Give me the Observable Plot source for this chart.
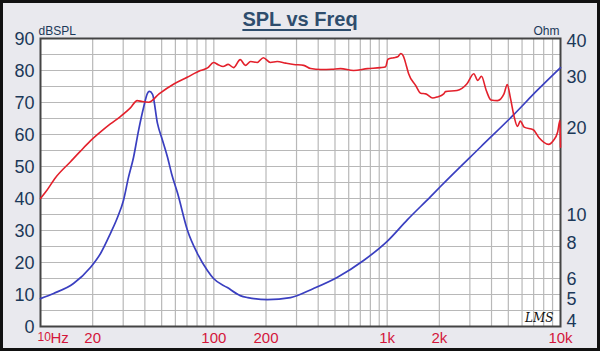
<!DOCTYPE html>
<html><head><meta charset="utf-8">
<script src="https://cdn.jsdelivr.net/npm/d3@7"></script>
<script src="https://cdn.jsdelivr.net/npm/@observablehq/plot@0.6"></script>
<style>
html,body{margin:0;padding:0;background:#e9e9ee;}
#wrap{position:relative;width:600px;height:351px;overflow:hidden;}
#wrap svg{display:block;}
#title{position:absolute;left:0;top:8px;width:600px;text-align:center;font:bold 20px/23px "Liberation Sans",Arial,sans-serif;color:#2e4d6d;text-decoration:underline;text-decoration-thickness:2px;text-underline-offset:3px;}
#border{position:absolute;left:0;top:0;width:600px;height:351px;box-sizing:border-box;border:3px solid #111;pointer-events:none;}
</style></head>
<body><div id="wrap"><div id="title">SPL vs Freq</div><div id="border"></div></div>
<script>
// SPL curve (red), dB
const splFreq = [10, 10.7, 12.2, 14.9, 17, 19.4, 22.2, 25.3, 28.9, 33, 36.1, 38.6, 42.2, 48.3, 58.8, 70.2, 83.7, 92, 99.6, 106, 113, 121, 130, 142, 152, 163, 178, 193, 212, 232, 260, 289, 330, 362, 415, 480, 538, 640, 770, 915, 980, 1010, 1090, 1150, 1200, 1240, 1290, 1330, 1460, 1560, 1670, 1830, 1940, 2120, 2170, 2530, 2880, 3160, 3330, 3500, 3730, 3970, 4330, 4720, 4930, 5150, 5410, 5650, 5860, 6170, 6960, 7520, 8540, 9100, 9620, 9940, 10000];
const splDb = [40, 42, 46.5, 51.5, 54.8, 58, 60.8, 63.3, 65.6, 68.3, 70.6, 70.3, 70.1, 72.7, 75.8, 77.9, 80, 80.8, 82.5, 81.8, 81.25, 81.9, 80.9, 83.4, 81.6, 82.8, 82.5, 84, 82.5, 82.8, 82.3, 81.9, 81.6, 80.6, 80.3, 80.4, 80.6, 80, 80.6, 80.9, 81.2, 83.5, 84, 84.3, 85.3, 84.5, 81.5, 79, 75.3, 72.9, 72.7, 71.4, 71.7, 72.7, 73.4, 73.75, 75.8, 79, 76.9, 78.2, 73.75, 70.8, 70.6, 72.7, 75.6, 71.2, 65.4, 62.5, 64.2, 62.3, 61.5, 59, 56.9, 58.1, 60.7, 64.4, 56];

// Impedance curve (blue), Ohm
const zFreq = [10, 11.9, 15.5, 19.4, 22.2, 25.3, 27.8, 30.1, 32.2, 34.4, 36.8, 39.3, 41.4, 42.5, 44.3, 47.3, 50.6, 54.1, 57, 61.8, 70.5, 80.4, 91.8, 99.6, 119.7, 142, 157, 204, 277, 376, 514, 731, 1000, 1310, 1780, 2030, 3460, 5390, 7330, 10000];
const zOhm = [5.0, 5.21, 5.64, 6.41, 7.17, 8.41, 9.56, 10.96, 13.2, 15.45, 19.2, 23.0, 25.8, 26.2, 25.6, 20.3, 17.7, 15.45, 13.6, 11.6, 8.62, 7.17, 6.26, 5.87, 5.46, 5.12, 5.04, 4.96, 5.04, 5.42, 5.92, 6.78, 7.9, 9.4, 11.3, 12.25, 16.8, 21.8, 26.4, 31.7];

// Axes
const xTicks = [20, 50, 100, 200, 500, 1000, 2000, 5000, 10000];
const xTickLabels = ["20", "50", "100", "200", "500", "1k", "2k", "5k", "10k"];
const dbTicks = [0, 10, 20, 30, 40, 50, 60, 70, 80, 90];
const ohmTicks = [4, 5, 6, 8, 10, 20, 30, 40];
const ohmMin = 4, ohmMax = 40, dbMax = 90;

// right (Ohm, log) axis mapped onto the dB scale
const ohmToY = o => dbMax * Math.log10(o / ohmMin) / Math.log10(ohmMax / ohmMin);

const spl = splFreq.map((f, i) => ({f, v: splDb[i]}));
const imp = zFreq.map((f, i) => ({f, v: ohmToY(zOhm[i])}));

const gridX = [];
for (const d of [10, 100, 1000]) for (let k = 1; k <= 9; k++) if (d * k > 10) gridX.push(d * k);
const gridY = d3.range(5, 90, 5);

const xLabel = new Map(xTicks.map((t, i) => [t, xTickLabels[i]]));
const ohmPos = ohmTicks.map(ohmToY);
const ohmLabel = new Map(ohmPos.map((p, i) => [p, String(ohmTicks[i])]));

const font = "Liberation Sans, Arial, sans-serif";
const navy = "#1b3858", red = "#d4163a";
const rightAxis = (ticks, dy) => Plot.axisY(ticks, {anchor: "right", tickSize: 0, tickPadding: 6, fontSize: 18, color: navy, label: null, dy, tickFormat: d => ohmLabel.get(d)});

const chart = Plot.plot({
  width: 600, height: 351,
  marginLeft: 40, marginRight: 40, marginTop: 38, marginBottom: 25,
  x: {type: "log", domain: [10, 10000]},
  y: {domain: [0, 90]},
  style: {background: "transparent", fontFamily: font},
  marks: [
    Plot.frame({fill: "white", stroke: null}),
    Plot.ruleX(gridX, {stroke: "#b8b8b8", strokeWidth: 1.2}),
    Plot.ruleY(gridY, {stroke: "#b8b8b8", strokeWidth: 1.2}),
    Plot.frame({stroke: "#444", strokeWidth: 2}),
    Plot.line(imp, {x: "f", y: "v", stroke: "#3a3fc0", strokeWidth: 1.7, curve: "monotone-x"}),
    Plot.line(spl, {x: "f", y: "v", stroke: "#e3202b", strokeWidth: 1.6, curve: "monotone-x"}),
    Plot.axisY(dbTicks, {anchor: "left", tickSize: 0, tickPadding: 6, fontSize: 18, color: navy, label: null, dy: 1}),
    rightAxis(ohmPos.slice(2), 3),
    rightAxis(ohmPos.slice(1, 2), 1),
    rightAxis(ohmPos.slice(0, 1), -5),
    Plot.axisX(xTicks, {anchor: "bottom", tickSize: 0, tickPadding: 6, fontSize: 15, color: red, label: null, tickFormat: d => xLabel.get(d)}),
    Plot.text(["10"], {x: [10], frameAnchor: "bottom", textAnchor: "start", lineAnchor: "top", dx: -3, dy: 6, fontSize: 12, fill: red}),
    Plot.text(["Hz"], {x: [10], frameAnchor: "bottom", textAnchor: "start", lineAnchor: "top", dx: 10, dy: 6, fontSize: 15, fill: red}),
    Plot.text(["dBSPL"], {frameAnchor: "top-left", textAnchor: "start", lineAnchor: "bottom", dx: -2, dy: -4, fontSize: 12, fill: navy}),
    Plot.text(["Ohm"], {frameAnchor: "top-right", textAnchor: "end", lineAnchor: "bottom", dx: -1, dy: -4, fontSize: 12, fill: navy}),
    Plot.text(["LMS"], {frameAnchor: "bottom-right", textAnchor: "end", lineAnchor: "bottom", dx: -7, dy: -5, fontSize: 12, fontStyle: "italic", fontFamily: "DejaVu Serif", fill: "#111"})
  ]
});
document.getElementById("wrap").prepend(chart);
</script>
</body></html>
